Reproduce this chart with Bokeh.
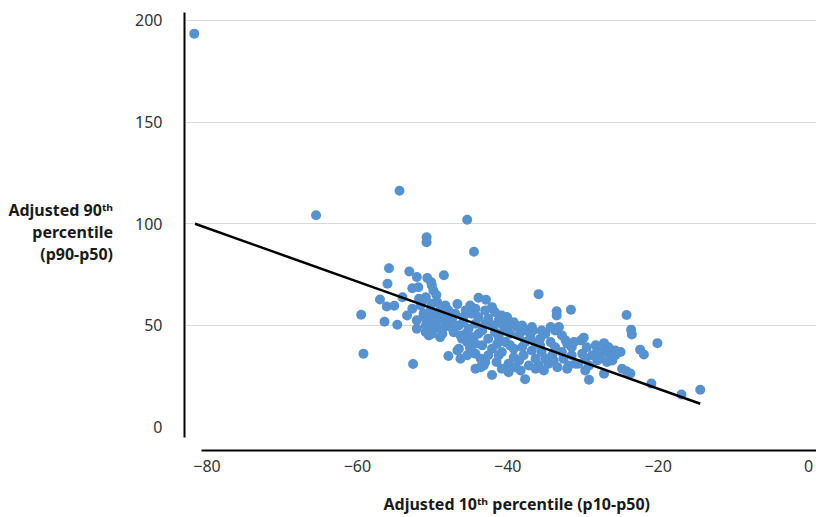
import numpy as np
from bokeh.plotting import figure
from bokeh.models import Range1d, FixedTicker, Title
from bokeh.embed import file_html
from bokeh.resources import INLINE

# Adjusted 10th percentile (p10-p50)
p10 = [
    -81.7, -65.5, -54.4, -45.4, -50.8, -50.8, -44.5, -35.9, -31.6, -33.5, -33.5,
    -24.2, -23.6, -23.5, -20.1, -22.4, -21.9, -20.9, -16.9, -14.4, -24.2, -23.7,
    -25.0, -59.5, -59.2, -52.6, -37.7,
    -55.8, -53.1, -52.1, -50.7, -50.2, -48.5, -56.0, -52.7, -51.9, -49.9, -49.5,
    -57.0, -56.1, -55.1, -54.0, -51.8, -50.9, -49.4, -48.3, -46.7, -56.4, -54.7,
    -53.4, -52.7, -52.1, -50.9, -50.3, -49.0, -47.9, -46.7, -46.3, -51.2, -50.3,
    -49.6, -50.5, -49.2, -48.3, -47.4, -50.9, -49.8, -48.7, -50.5, -47.6, -46.5,
    -45.9, -51.4, -50.1, -50.8,
    -45.0, -43.9, -42.9, -42.1, -43.0, -44.8, -43.9, -42.6, -41.2, -40.1, -39.2,
    -39.9, -41.9, -45.2, -43.4, -37.7, -36.6, -35.5, -33.7, -32.8, -38.5, -37.0,
    -35.7, -34.3, -32.1, -31.2, -46.1, -44.6, -42.6, -41.2, -40.3, -46.5, -45.0,
    -43.4, -42.1, -40.8, -39.2, -38.1, -36.8, -35.5, -34.1, -32.8, -31.5, -43.0,
    -41.5, -39.9, -38.5, -37.2, -35.9, -34.6, -33.4, -32.1, -42.1, -39.9, -38.3,
    -36.3, -44.3, -45.0, -43.6, -43.2,
    -30.3, -29.9, -27.2, -28.1, -28.8, -27.4, -26.6, -25.7, -26.1, -26.8, -30.1,
    -31.9, -30.6, -29.2, -29.7, -29.2, -27.2, -24.8, -28.1,
    # dense core
    -45.6, -44.3, -41.7, -40.8, -38.8, -38.1, -36.8, -35.0, -34.3, -33.2, -32.3,
    -36.3, -37.7, -39.7, -41.4, -44.3, -45.4, -45.6, -43.9, -41.7, -40.5, -39.7,
    -44.3, -43.0, -40.8, -45.9, -35.7, -33.7, -32.6, -35.0, -36.3, -37.9, -39.2,
    -41.2, -42.6, -44.3, -45.4, -43.6, -40.8, -39.0, -35.2, -33.9, -31.0,
    -31.5, -29.5, -28.3, -26.6, -25.7, -27.7, -29.7,
    -51.6, -50.1, -50.9, -52.1, -49.6, -48.3, -47.0, -47.9, -49.0, -50.1, -48.7,
    -47.2, -46.3,
]
# Adjusted 90th percentile (p90-p50)
p90 = [
    193.5, 104.2, 116.2, 102.0, 93.4, 90.9, 86.2, 65.4, 57.7, 57.0, 54.9,
    55.1, 47.9, 45.6, 41.3, 38.1, 35.7, 21.4, 16.0, 18.4, 27.5, 26.4,
    36.9, 55.3, 36.1, 31.0, 23.6,
    78.1, 76.5, 73.8, 73.3, 71.3, 74.7, 70.5, 68.3, 68.8, 67.2, 65.0,
    62.8, 59.3, 59.7, 63.9, 63.1, 63.9, 61.5, 59.8, 60.5, 51.8, 50.3,
    54.9, 58.2, 48.4, 46.7, 52.5, 44.2, 35.0, 37.7, 33.6, 55.8, 57.4,
    55.8, 53.3, 53.3, 54.9, 53.3, 50.0, 48.4, 48.4, 45.1, 49.2, 50.0,
    54.1, 61.5, 69.7, 47.5,
    59.8, 63.6, 62.6, 59.0, 57.4, 55.8, 54.1, 53.3, 52.5, 54.1, 51.6,
    50.0, 50.0, 48.4, 47.5, 47.5, 47.5, 47.5, 47.5, 45.1, 45.1, 44.2,
    43.5, 41.8, 41.0, 41.8, 43.5, 44.2, 43.5, 44.2, 41.8, 38.5, 38.5,
    40.2, 38.5, 36.9, 38.5, 39.3, 37.7, 36.9, 35.3, 36.9, 35.3, 32.0,
    32.0, 31.2, 32.8, 30.3, 30.3, 31.2, 29.5, 28.7, 25.6, 27.0, 27.9,
    28.7, 28.7, 39.3, 33.6, 30.3,
    42.6, 44.0, 41.3, 37.7, 35.3, 36.9, 36.4, 35.3, 32.8, 32.0, 36.1,
    30.3, 31.2, 30.3, 27.9, 23.3, 26.3, 28.7, 32.8,
    # dense core
    57.4, 58.2, 56.5, 54.9, 49.2, 50.0, 49.2, 45.9, 49.2, 49.2, 42.6,
    41.0, 41.8, 40.2, 41.0, 41.0, 41.8, 45.9, 45.9, 46.7, 47.5, 45.9,
    50.8, 50.8, 50.8, 51.6, 40.2, 39.3, 33.6, 33.6, 33.6, 35.3, 34.4,
    35.3, 35.3, 36.1, 35.3, 29.5, 28.7, 29.5, 27.9, 32.8, 31.2,
    39.3, 39.3, 40.2, 39.3, 37.7, 33.6, 33.6,
    59.8, 60.7, 53.3, 52.5, 51.6, 50.8, 55.8, 57.4, 57.4, 45.9, 45.9,
    46.7, 45.1,
]

# Linear trend line end points
trend_x = [-81.6, -14.4]
trend_y = [100.0, 11.5]

x_ticks = [-80, -60, -40, -20, 0]
y_ticks = [0, 50, 100, 150, 200]
grid_ticks = [50, 100, 150, 200]

x_title = "Adjusted 10ᵗʰ percentile (p10-p50)"
y_title = "Adjusted 90ᵗʰ\npercentile\n(p90-p50)"

FONT = "Noto Sans"

p = figure(width=816, height=517, output_backend="svg", toolbar_location=None,
           x_range=Range1d(-83.0, 1.06), y_range=Range1d(-11.5, 203.9),
           min_border_left=184, min_border_right=0, min_border_top=12,
           min_border_bottom=67)
p.outline_line_color = None
p.background_fill_color = "white"
p.border_fill_color = "white"

# grid
p.xgrid.grid_line_color = None
p.ygrid.ticker = FixedTicker(ticks=grid_ticks)
p.ygrid.grid_line_color = "#d9d9d9"
p.ygrid.grid_line_width = 1

# x axis
xa = p.xaxis[0]
xa.ticker = FixedTicker(ticks=x_ticks)
xa.bounds = (-80.74, 1.06)
xa.axis_line_color = "black"
xa.axis_line_width = 2
xa.major_tick_line_color = None
xa.minor_tick_line_color = None
xa.major_label_text_font = FONT
xa.major_label_text_font_size = "16px"
xa.major_label_text_color = "#333333"
xa.major_label_standoff = 3

# x axis title (a Title below the axis, offset to sit under the axis line)
xt = Title(text=x_title, align="left", offset=199, standoff=0,
           vertical_align="top",
           padding=dict(left=0, right=0, top=18, bottom=0),
           text_font=FONT, text_font_size="16px", text_font_style="bold",
           text_color="#1a1a1a")
p.add_layout(xt, "below")

# y axis
ya = p.yaxis[0]
ya.ticker = FixedTicker(ticks=y_ticks)
ya.bounds = (-5, 203.9)
ya.axis_line_color = "black"
ya.axis_line_width = 2
ya.major_tick_line_color = None
ya.minor_tick_line_color = None
ya.major_label_text_font = FONT
ya.major_label_text_font_size = "16px"
ya.major_label_text_color = "#333333"
ya.major_label_standoff = 16
ya.axis_label = y_title
ya.axis_label_orientation = "horizontal"
ya.axis_label_text_align = "right"
ya.axis_label_text_font = FONT
ya.axis_label_text_font_size = "16px"
ya.axis_label_text_font_style = "bold"
ya.axis_label_text_color = "#1a1a1a"
ya.axis_label_text_line_height = 1.0
ya.axis_label_standoff = 19

p.scatter(p10, p90, size=10, color="#5592cf", line_color=None)
p.line(trend_x, trend_y, line_color="black", line_width=2.5)

open("out.html", "w").write(file_html(p, INLINE))
